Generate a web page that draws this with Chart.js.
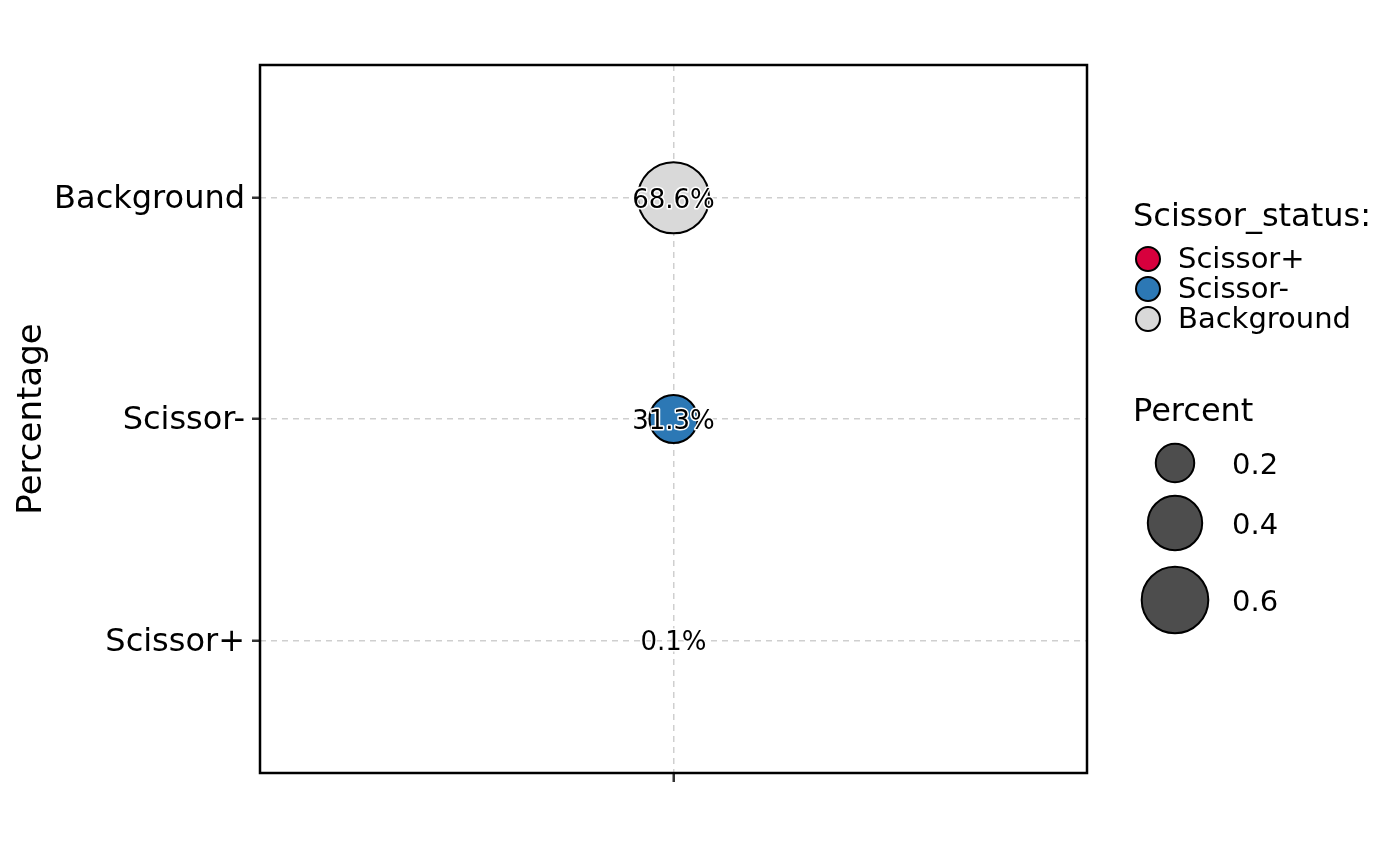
<!DOCTYPE html>
<html>
<head>
<meta charset="utf-8">
<script src="https://cdn.jsdelivr.net/npm/chart.js@4.4.1/dist/chart.umd.min.js"></script>
<style>
  body { margin: 0; background: #fff; }
</style>
</head>
<body>
<canvas id="dotChart" width="1400" height="866"></canvas>
<script>
  // data
  const categories = ["Scissor+", "Scissor-", "Background"];
  const percents = [0.001, 0.313, 0.686];
  const statusColors = ["#D7003D", "#2C78B5", "#D9D9D9"];
  const sizeBreaks = [0.2, 0.4, 0.6];
  const sizeLabels = ["0.2", "0.4", "0.6"];

  const FONT = '"DejaVu Sans", sans-serif';

  // bubble area is proportional to the percent
  function radiusFor(p) {
    return 43 * Math.sqrt(p);
  }

  let points = [];
  for (let i = 0; i < categories.length; i++) {
    points.push({ x: 1, y: i + 1, r: radiusFor(percents[i]) });
  }

  // percent text with a white halo on each bubble
  const labelPlugin = {
    id: 'pctLabels',
    afterDatasetsDraw(chart) {
      const ctx = chart.ctx;
      const meta = chart.getDatasetMeta(0);
      ctx.save();
      ctx.font = '26px ' + FONT;
      ctx.textAlign = 'center';
      ctx.textBaseline = 'alphabetic';
      ctx.lineJoin = 'round';
      meta.data.forEach(function (pt, i) {
        let txt = (percents[i] * 100).toFixed(1) + '%';
        let ty = pt.y + 10;
        ctx.lineWidth = 3;
        ctx.strokeStyle = '#fff';
        ctx.strokeText(txt, pt.x, ty);
        ctx.fillStyle = '#000';
        ctx.fillText(txt, pt.x, ty);
      });
      ctx.restore();
    }
  };

  // box round the panel
  const framePlugin = {
    id: 'frame',
    afterDatasetsDraw(chart) {
      const a = chart.chartArea;
      const ctx = chart.ctx;
      ctx.save();
      ctx.strokeStyle = '#000';
      ctx.lineWidth = 2.5;
      ctx.strokeRect(a.left, a.top, a.right - a.left, a.bottom - a.top);
      ctx.restore();
    }
  };

  // the two legends on the right
  const legendPlugin = {
    id: 'sideLegend',
    afterDraw(chart) {
      const ctx = chart.ctx;
      ctx.save();
      ctx.fillStyle = '#000';
      ctx.textAlign = 'left';
      ctx.textBaseline = 'alphabetic';

      ctx.font = '32px ' + FONT;
      ctx.fillText('Scissor_status:', 1133, 226);

      ctx.font = '29px ' + FONT;
      for (let i = 0; i < categories.length; i++) {
        let cy = 259 + i * 30;
        ctx.beginPath();
        ctx.arc(1148, cy, 12, 0, Math.PI * 2);
        ctx.fillStyle = statusColors[i];
        ctx.fill();
        ctx.lineWidth = 2;
        ctx.strokeStyle = '#000';
        ctx.stroke();
        ctx.fillStyle = '#000';
        ctx.fillText(categories[i], 1178, cy + 9);
      }

      ctx.font = '32px ' + FONT;
      ctx.fillText('Percent', 1133, 421);

      ctx.font = '29px ' + FONT;
      const sizeY = [463, 523, 600];
      for (let i = 0; i < sizeBreaks.length; i++) {
        ctx.beginPath();
        ctx.arc(1175, sizeY[i], radiusFor(sizeBreaks[i]), 0, Math.PI * 2);
        ctx.fillStyle = '#4D4D4D';
        ctx.fill();
        ctx.lineWidth = 2;
        ctx.strokeStyle = '#000';
        ctx.stroke();
        ctx.fillStyle = '#000';
        ctx.fillText(sizeLabels[i], 1232, sizeY[i] + 11);
      }
      ctx.restore();
    }
  };

  const gridOpts = {
    color: '#CFCFCF',
    lineWidth: 1.5,
    drawTicks: true,
    tickLength: 8,
    tickWidth: 2.5,
    tickColor: '#333333'
  };

  var ctx = document.getElementById('dotChart').getContext('2d');
  var chart = new Chart(ctx, {
    type: 'bubble',
    data: {
      datasets: [{
        label: 'Scissor_status',
        data: points,
        backgroundColor: statusColors,
        borderColor: '#000',
        borderWidth: 2,
        hoverRadius: 0
      }]
    },
    options: {
      responsive: false,
      animation: false,
      layout: { padding: { left: 0, right: 313, top: 65, bottom: 0 } },
      plugins: {
        legend: { display: false },
        tooltip: { enabled: false }
      },
      scales: {
        x: {
          type: 'linear',
          min: 0.4,
          max: 1.6,
          afterBuildTicks: function (scale) { scale.ticks = [{ value: 1 }]; },
          afterFit: function (scale) { scale.height = 93; },
          ticks: { display: false },
          grid: Object.assign({}, gridOpts, { tickLength: 9 }),
          border: { display: false, dash: [6, 5] }
        },
        y: {
          type: 'linear',
          min: 0.4,
          max: 3.6,
          afterBuildTicks: function (scale) {
            scale.ticks = categories.map(function (c, i) { return { value: i + 1 }; });
          },
          afterFit: function (scale) { scale.width = 260; },
          ticks: {
            color: '#000',
            padding: 7,
            labelOffset: 2,
            font: { family: FONT, size: 32 },
            callback: function (value) { return categories[value - 1]; }
          },
          grid: gridOpts,
          border: { display: false, dash: [6, 5] },
          title: {
            display: true,
            text: 'Percentage',
            color: '#000',
            font: { family: FONT, size: 34, lineHeight: 1.2 },
            padding: { top: 12, bottom: 0 }
          }
        }
      }
    },
    plugins: [labelPlugin, framePlugin, legendPlugin]
  });
</script>
</body>
</html>
